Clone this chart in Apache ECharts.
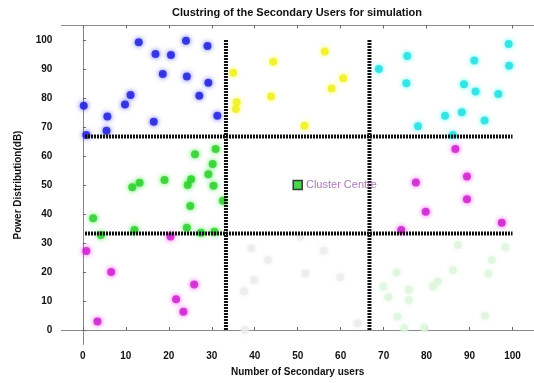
<!DOCTYPE html>
<html>
<head>
<meta charset="utf-8">
<script src="https://cdn.jsdelivr.net/npm/echarts@6/dist/echarts.min.js"></script>
<style>
  html, body { margin: 0; padding: 0; background: #fff; }
  #chart { width: 534px; height: 383px; }
</style>
</head>
<body>
<div id="chart"></div>
<script>
// cluster points [users, power]
const blueUsers = [[13.0, 99.2], [24.0, 99.7], [29.0, 97.9], [16.9, 95.2], [20.5, 94.8], [18.6, 88.3], [24.2, 87.4], [29.2, 85.3], [11.1, 81.0], [27.1, 80.8], [9.8, 77.8], [0.2, 77.3], [5.7, 73.6], [31.3, 73.9], [16.5, 71.8], [5.5, 68.7], [0.8, 67.2]];
const yellowUsers = [[56.3, 96.0], [44.3, 92.5], [35.0, 88.7], [60.6, 86.8], [57.9, 83.3], [43.8, 80.5], [35.8, 78.5], [35.6, 76.2], [51.6, 70.4]];
const cyanUsers = [[99.1, 98.6], [75.5, 94.5], [91.1, 92.9], [68.9, 90.0], [99.2, 91.1], [75.3, 85.1], [88.7, 84.7], [91.4, 82.2], [96.7, 81.4], [88.2, 75.1], [84.3, 73.9], [93.5, 72.2], [78.0, 70.3], [86.1, 67.2]];
const greenUsers = [[30.9, 62.4], [26.1, 60.6], [30.2, 57.2], [29.2, 53.7], [25.2, 52.0], [24.4, 50.0], [19.0, 51.7], [13.2, 50.8], [11.5, 49.2], [30.4, 49.7], [25.0, 42.8], [2.4, 38.5], [12.0, 34.5], [24.2, 35.3], [30.6, 33.9], [4.2, 32.8], [27.5, 33.5], [32.6, 44.6]];
const magentaUsers = [[86.7, 62.4], [89.4, 52.9], [77.5, 50.9], [89.4, 45.1], [79.8, 40.8], [97.5, 37.0], [74.1, 34.5], [0.8, 27.2], [6.6, 20.0], [25.9, 15.7], [21.7, 10.6], [23.4, 6.3], [3.4, 2.9], [20.4, 32.2]];
const grayUsers = [[39.2, 28.2], [43.1, 24.1], [39.8, 17.2], [37.5, 13.4], [51.8, 19.5], [56.0, 27.3], [59.9, 18.2], [64.0, 2.3], [37.7, 0.0], [50.6, 32.2]];
const paleGreenUsers = [[87.3, 29.3], [95.2, 24.1], [94.4, 19.5], [86.1, 20.7], [73.0, 19.8], [82.6, 16.7], [81.5, 15.0], [69.9, 15.0], [75.9, 13.8], [71.1, 11.3], [75.9, 10.3], [73.2, 4.6], [93.6, 4.9], [74.8, 0.6], [79.5, 0.8], [98.3, 28.5]];
const clusterCentre = [[50, 50]];

// partition lines
const hLines = [33.3, 66.7];
const vLines = [33.3, 66.7];
const xTicks = [0, 10, 20, 30, 40, 50, 60, 70, 80, 90, 100];
const yTicks = [0, 10, 20, 30, 40, 50, 60, 70, 80, 90, 100];

const chart = echarts.init(document.getElementById('chart'));

function dots(name, data, color, glow) {
  return {
    name: name,
    type: 'scatter',
    data: data,
    symbolSize: 8,
    z: 3,
    itemStyle: {
      color: color,
      shadowBlur: 5,
      shadowColor: glow
    }
  };
}

const lineStyle = { color: '#111', width: 4, type: [2, 1] };
const borderSeries = [];
hLines.forEach(function (y) {
  borderSeries.push({
    type: 'line', data: [[0.5, y], [100, y]], symbol: 'none', silent: true,
    lineStyle: lineStyle, z: 4
  });
});
vLines.forEach(function (x) {
  borderSeries.push({
    type: 'line', data: [[x, 0], [x, 100]], symbol: 'none', silent: true,
    lineStyle: lineStyle, z: 4
  });
});

const axisFont = { fontFamily: 'Liberation Sans', fontWeight: 'bold', fontSize: 10, color: '#111' };

chart.setOption({
  backgroundColor: '#fff',
  animation: false,
  title: {
    text: 'Clustring of the Secondary Users for simulation',
    left: 292,
    textAlign: 'center',
    top: 2,
    textStyle: { fontFamily: 'Liberation Sans', fontWeight: 'bold', fontSize: 11, color: '#111' }
  },
  grid: { left: 61.4, top: 25.5, width: 475.2, height: 319 },
  xAxis: [{
    type: 'value', min: -5, max: 105,
    name: 'Number of Secondary users',
    nameLocation: 'middle', nameGap: 23,
    nameTextStyle: axisFont,
    axisLine: { lineStyle: { color: '#888' } },
    axisTick: { inside: true, length: 3, customValues: xTicks, lineStyle: { color: '#666' } },
    axisLabel: Object.assign({ customValues: xTicks, margin: 7 }, axisFont),
    splitLine: { show: false }
  }, {
    type: 'value', min: -5, max: 105, position: 'top',
    axisLine: { lineStyle: { color: '#888' } },
    axisTick: { inside: true, length: 3, customValues: xTicks, lineStyle: { color: '#666' } },
    axisLabel: { show: false },
    splitLine: { show: false }
  }],
  yAxis: [{
    type: 'value', min: -5, max: 105,
    name: 'Power Distribution(dB)',
    nameLocation: 'middle', nameGap: 38, nameRotate: 90,
    nameTextStyle: axisFont,
    axisLine: { show: true, lineStyle: { color: '#888' } },
    axisTick: { show: true, inside: true, length: 3, customValues: yTicks, lineStyle: { color: '#666' } },
    axisLabel: Object.assign({ customValues: yTicks, margin: 9 }, axisFont),
    splitLine: { show: false }
  }],
  series: [
    dots('blue', blueUsers, '#1a1ad8', 'rgba(40,40,255,0.9)'),
    dots('yellow', yellowUsers, '#eeee22', 'rgba(255,255,0,0.9)'),
    dots('cyan', cyanUsers, '#22dcdc', 'rgba(0,255,255,0.9)'),
    dots('green', greenUsers, '#2ccc2c', 'rgba(0,230,0,0.9)'),
    dots('magenta', magentaUsers, '#c81ec8', 'rgba(255,0,255,0.9)'),
    dots('gray', grayUsers, '#ebebeb', 'rgba(230,230,230,0.7)'),
    dots('palegreen', paleGreenUsers, '#dcf5dc', 'rgba(215,245,215,0.7)')
  ].concat(borderSeries).concat([{
    name: 'centre',
    type: 'scatter',
    data: clusterCentre,
    symbol: 'rect',
    symbolSize: 9,
    z: 6,
    itemStyle: { color: '#22cc22', borderColor: '#111', borderWidth: 1.5 },
    label: {
      show: true, position: 'right', distance: 3,
      formatter: 'Cluster Centre',
      fontFamily: 'Liberation Sans', fontSize: 11, color: '#9a55a8'
    }
  }])
});
</script>
</body>
</html>
